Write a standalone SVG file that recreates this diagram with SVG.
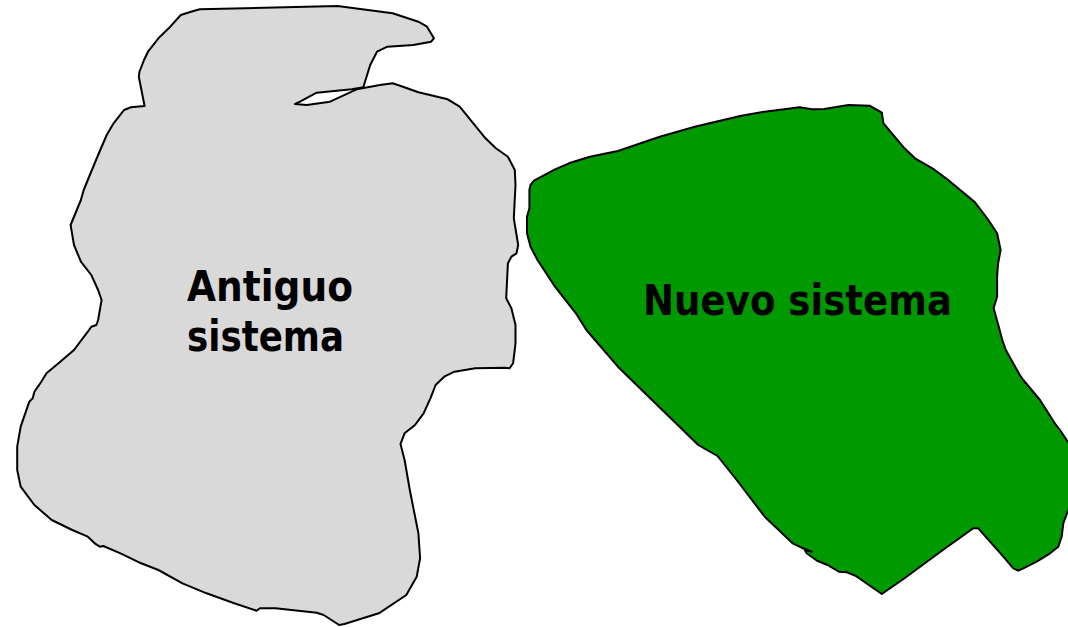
<svg xmlns="http://www.w3.org/2000/svg" width="1068" height="627" viewBox="0 0 1068 627">
<style>
.shape{stroke:#000;stroke-width:2;stroke-linejoin:round;fill-rule:nonzero}
.old{fill:#d9d9d9}
.new{fill:#009900}
.lbl{font-family:"DejaVu Sans","Verdana","Liberation Sans",sans-serif;font-weight:bold;font-size:43px;fill:#000}
</style>
<rect width="1068" height="627" fill="#ffffff"/>
<g id="antiguo">
<path class="shape old" d="M199.7,9.3 L337.5,6 L392.6,13.3 L418.4,21.7 L427,26.7 L433.9,38.3 L431.1,41.7 L413.2,45 L387.4,46.7 L377,51.7 L370.2,65 L363.3,87.3 L351.7,89.3 L316.7,92.7 L300,101.7 L295,104 L306.7,105 L330,101.7 L356.7,89.3 L380,85 L392.6,83.3 L402.9,86.7 L418.4,92.3 L447.7,99.3 L459.7,106.7 L485.5,138.3 L495.9,148.3 L507.9,156.7 L514.8,170 L515.5,185 L513.8,218.3 L518.2,245 L516.5,253.3 L511.4,256.7 L507.9,263.3 L506.2,298.3 L511.4,308.3 L515.5,325 L515.5,343.3 L513.1,363.3 L509.6,368.3 L504.5,367.7 L475.2,368.3 L454.5,371.7 L444.2,376.7 L435.6,385 L430.4,398.3 L423.6,413.3 L415,425 L404.6,433.3 L400.5,444 L404.6,460 L409.8,490 L418.4,533.3 L420.1,558.3 L416.7,576.7 L406.3,595 L378.8,613.3 L344.4,624 L339.2,625 L323.7,615 L316.8,612.7 L275.5,608.3 L260,608.3 L256.5,610.7 L234.2,603.3 L206.6,593.3 L182.5,583.3 L158.4,570 L141.2,563.3 L120.5,553.3 L103.3,546 L99.9,546.7 L94.7,543.3 L87.8,536.7 L72.3,530 L51.7,520 L34.4,505 L20.7,486.7 L17.2,470 L17.2,446.7 L20.7,426.7 L29.3,401.7 L32.7,398.3 L34.4,391.7 L41.3,381.7 L46.5,373.3 L60.3,361.7 L74,350 L87.8,331.7 L91.3,326.7 L96.4,325 L98.1,320 L101.6,300 L98.1,290 L91.3,275 L80.9,261.7 L74,245 L70.6,225 L80.9,200 L83.7,190 L87.8,180 L98.1,155 L106.7,135 L113.6,123.3 L124,110 L130.9,107.3 L144.6,106 L138.8,76.7 L139.5,71.7 L144,60 L148,51.7 L158.4,38.3 L168.7,28.3 L180.8,15 L191,11.7 Z"/>
<text class="lbl" x="187" y="301" textLength="166" lengthAdjust="spacingAndGlyphs">Antiguo</text>
<text class="lbl" x="187" y="351" textLength="157" lengthAdjust="spacingAndGlyphs">sistema</text>
</g>
<g id="nuevo">
<path class="shape new" d="M534,180.7 L555,169.3 L568.9,163.3 L589.9,156.7 L617.9,151 L659.8,136.7 L694.8,126.7 L740.2,116 L764.7,111.7 L799.6,107.3 L811.9,109.3 L824.1,109 L848.6,105 L869.5,105.7 L881.8,112.7 L883.5,123.3 L904.5,148.3 L915,158.3 L932.4,168.3 L948.2,180 L974.4,201.7 L988.4,220 L997.1,233.3 L1000.6,250 L998.1,263.3 L997.1,276.7 L997.1,296.7 L993.6,308.3 L998.8,326.7 L1002.3,340 L1005.8,350 L1019.8,375 L1023.3,380 L1040,400 L1054.8,423.3 L1060,430 L1072,448 L1072,500 L1063.3,523.3 L1061.7,536.7 L1058.3,546.7 L1050,553.3 L1036.7,561.7 L1023.3,568.3 L1018.3,570.7 L1013.3,568.3 L1003.3,556.7 L978.3,528.3 L973.3,528.3 L956.9,540 L942.9,550 L904.5,578.3 L881.8,594 L855.5,575.7 L846.8,572.3 L838.8,571.7 L827.6,565 L817.1,560.7 L806.6,553.3 L804.9,550 L811.9,551.7 L803.1,548.3 L792.6,543.3 L764.7,516.7 L736.7,480 L717.5,456 L705.2,449 L698.3,445 L617.9,366.7 L586.4,330 L575.9,313.3 L555,286.7 L537.5,260 L530.5,246.7 L527,233.3 L527,216.7 L529.4,208.3 L529.4,190 L530.5,185 Z"/>
<text class="lbl" x="643" y="315" textLength="309" lengthAdjust="spacingAndGlyphs">Nuevo sistema</text>
</g>
<g id="connectors"/>
</svg>
